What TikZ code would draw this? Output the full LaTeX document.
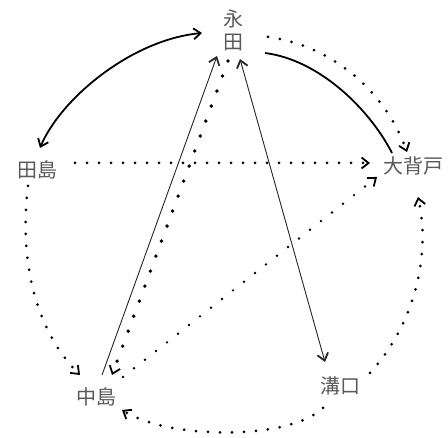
\documentclass[tikz,border=0pt]{standalone}
\usepackage{fontspec}
\newfontfamily\cjk{Noto Sans CJK JP}
\usetikzlibrary{arrows.meta,calc}
\tikzset{
  place/.style={font=\cjk\fontsize{20}{23}\selectfont, text=black!65, inner sep=0pt, align=center},
  tipp/.tip={Straight Barb[length=7pt,width=11pt,line width=1.8pt]},
  thinline/.style={line width=0.9pt, black!85},
  thickline/.style={line width=1.8pt},
  dotline/.style={line width=3pt, line cap=round, dash pattern=on 0pt off 12pt},
  bigdots/.style={line width=3.8pt, line cap=round, dash pattern=on 0pt off 16pt},
  smalldots/.style={line width=2.7pt, line cap=round, dash pattern=on 0pt off 14pt}
}
\begin{document}
\begin{tikzpicture}[x=1pt,y=-1pt]
\useasboundingbox[fill=white] (0,0) rectangle (448,438);
\node[place] (nagata) at (233,30) {永\\田};
\node[place] (tajima) at (37,170) {田島};
\node[place] (oseto) at (413,166) {大背戸};
\node[place] (nakajima) at (96,397) {中島};
\node[place] (mizoguchi) at (340,386) {溝口};

% Tajima <-> Nagata arc
\draw[thickline, tipp-tipp] ($(tajima)+(3,-22)$) .. controls (60,100) and (130,40) .. ($(nagata)+(-31,3)$);
% Nagata - Oseto solid arc
\draw[thickline] ($(nagata)+(32,23)$) .. controls (320,60) and (370,110) .. ($(oseto)+(-21,-13)$);
% Nagata -> Oseto dotted arc
\draw[dotline, -tipp] ($(nagata)+(35,7)$) .. controls (330,45) and (385,90) .. ($(oseto)+(-6,-14)$);
% Tajima -> Oseto dotted straight
\draw[dotline, -tipp] ($(tajima)+(38,-7)$) -- ($(oseto)+(-43,-3)$);
% Tajima -> Nakajima dotted curve
\draw[dotline, -tipp] ($(tajima)+(-9,16)$) .. controls (18,270) and (40,335) .. ($(nakajima)+(-16,-22)$);
% Mizoguchi -> Nakajima bottom curve
\draw[dotline, -tipp] ($(mizoguchi)+(-17,22)$) .. controls (290,440) and (170,440) .. ($(nakajima)+(26,13)$);
% Mizoguchi -> Oseto right curve
\draw[dotline, -tipp] ($(mizoguchi)+(30,-13)$) .. controls (418,320) and (430,250) .. ($(oseto)+(5,31)$);
% Nakajima -> Nagata solid
\draw[thinline, -tipp] ($(nakajima)+(6,-22)$) -- ($(nagata)+(-16,26)$);
% Mizoguchi <-> Nagata solid
\draw[thinline, tipp-tipp] ($(nagata)+(7,29)$) -- ($(mizoguchi)+(-15,-24)$);
% Nagata -> Nakajima dotted
\draw[bigdots, -tipp] ($(nagata)+(-5,31)$) -- ($(nakajima)+(16,-22)$);
% Nakajima -> Oseto dotted
\draw[smalldots, -tipp] ($(nakajima)+(27,-20)$) -- ($(oseto)+(-36,11)$);
\end{tikzpicture}
\end{document}
